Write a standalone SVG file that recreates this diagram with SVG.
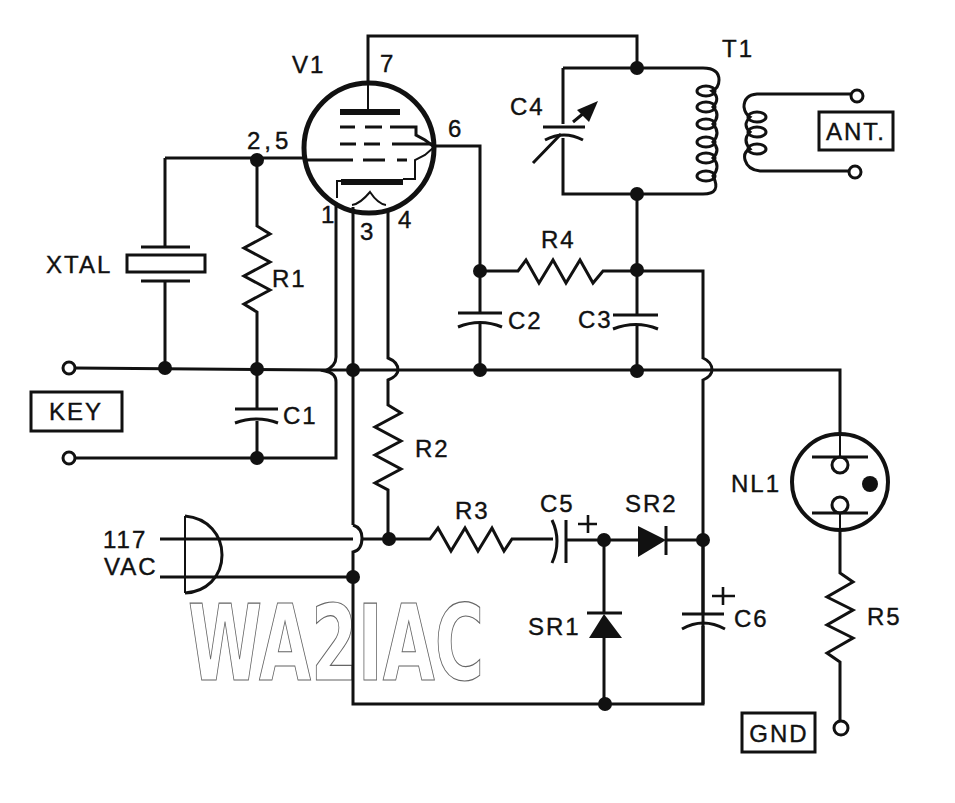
<svg xmlns="http://www.w3.org/2000/svg" width="955" height="803" viewBox="0 0 955 803">
<style>
svg{background:#fff}
.w{fill:none;stroke:#111;stroke-width:3;stroke-linejoin:miter;stroke-linecap:butt}
.t{fill:none;stroke:#111;stroke-width:2}
.m{fill:none;stroke:#111;stroke-width:2.6}
.h{fill:none;stroke:#111;stroke-width:6}
.d{fill:#111}
.o{fill:#fff;stroke:#111;stroke-width:3}
.b{fill:#fff;stroke:#111;stroke-width:3}
text{font-family:"Liberation Sans",Arial,sans-serif;font-size:24px;letter-spacing:2px;fill:#111;stroke:#111;stroke-width:.4}
</style>
<defs>
<circle id="j" r="7" class="d"/>
<circle id="p" r="6" class="o"/>
</defs>
<g id="watermark"><text transform="translate(188 680) scale(.63 1)" textLength="470" lengthAdjust="spacingAndGlyphs" style="font-family:'DejaVu Sans',sans-serif;font-size:106px;font-weight:bold;letter-spacing:0;fill:#fff;stroke:#666;stroke-width:1.2">WA2IAC</text></g>
<g id="connectors">
<path class="w" d="M368 82V36H637V68"/>
<path class="w" d="M165 158H303"/>
<path class="w" d="M165 158V247M165 281V368"/>
<path class="w" d="M257 160V226L270 234 244 248 270 262 244 276 270 290 244 304 257 312V409M257 421V458"/>
<path class="w" d="M75 368L325 370H840V433"/>
<path class="w" d="M75 458H336V382Q336 373 325 371Q336 366 336 357V205"/>
<path class="w" d="M353 207V525M353 525Q362 528 362 538Q362 550 353 552V704H703V540"/>
<path class="w" d="M388 212V358Q398 362 398 370Q398 376 388 380V405L401 413 375 427 401 441 375 455 401 469 375 483 388 490V539"/>
<path class="w" d="M435 146H480V313M480 324V370"/>
<path class="w" d="M480 271H518L526 260 539 283 553 260 566 283 580 260 593 283 603 271H703V358Q712 362 712 370Q712 376 703 380V614M703 626V704"/>
<path class="w" d="M637 194V315M637 326V370"/>
<path class="w" d="M160 539H353M362 539H430L438 528 451 551 465 528 478 551 492 528 504 551 512 539H553M566 540H638M666 540H703"/>
<path class="w" d="M160 577H353"/>
<path class="w" d="M604 540V613M604 638V704"/>
<path class="w" d="M840 531V573L853 582 827 597 853 610 827 625 853 638 827 653 840 662V721"/>
</g>
<g id="V1">
<circle cx="369" cy="148" r="65" fill="none" stroke="#111" stroke-width="5"/>
<path class="t" d="M368 82V112"/>
<path class="h" d="M340 112H400"/>
<path class="w" d="M340 127H355M365 127H382M390 127H416V135L425 140 433 146"/>
<path class="w" d="M340 144H356M364 144H380M392 144H435"/>
<path class="w" d="M303 160H353M363 160H385M397 160H407"/>
<path class="h" d="M341 182H403"/>
<path class="t" d="M337 198V181H342M403 179H415V160L425 155 433 148"/>
<path class="t" d="M352 205Q360 204 370 192Q378 204 386 205"/>
<text x="292" y="73">V1</text><text x="380" y="72">7</text><text x="247" y="149" style="letter-spacing:4px">2,5</text><text x="448" y="137">6</text><text x="321" y="223">1</text><text x="360" y="240">3</text><text x="398" y="228">4</text>
</g>
<g id="XTAL">
<path class="w" d="M141 247H190M141 281H190"/>
<rect class="b" x="127" y="255" width="78" height="17"/>
<text x="46" y="273">XTAL</text>
</g>
<g id="R1"><text x="272" y="287">R1</text></g>
<g id="C1"><path class="w" d="M235 409H278M235 423Q257 415 278 423"/><text x="283" y="424">C1</text></g>
<g id="KEY"><rect class="b" x="31" y="392" width="91" height="39"/><text x="76" y="420" text-anchor="middle">KEY</text><use href="#p" x="69" y="368"/><use href="#p" x="69" y="458"/></g>
<g id="R2"><text x="415" y="457">R2</text></g>
<g id="C2"><path class="w" d="M458 313H502M458 327Q480 318 502 327"/><text x="508" y="329">C2</text></g>
<g id="R4"><text x="541" y="248">R4</text></g>
<g id="C3"><path class="w" d="M613 315H658M613 329Q636 320 658 329"/><text x="578" y="328">C3</text></g>
<g id="C4">
<path class="w" d="M563 68V124M563 138V194H637"/>
<path class="w" d="M543 127H585M545 140Q564 130 583 140"/>
<path class="w" d="M533 163L561 134M573 122L590 108"/>
<path class="d" d="M598 101L577 110 589 122Z"/>
<text x="510" y="115">C4</text>
</g>
<g id="T1">
<path class="w" d="M563 68H703Q719 68 719 80Q719 88 712 91Q721 98 713 107Q721 115 713 124Q721 133 713 142Q721 150 713 158Q721 166 713 176Q722 194 703 194H637"/>
<g class="w"><ellipse cx="706" cy="91" rx="9" ry="5"/><ellipse cx="706" cy="107" rx="9" ry="5"/><ellipse cx="706" cy="124" rx="9" ry="5"/><ellipse cx="706" cy="142" rx="9" ry="5"/><ellipse cx="706" cy="158" rx="9" ry="5"/><ellipse cx="706" cy="176" rx="9" ry="5"/></g>
<path class="w" d="M851 94H757Q744 95 744 107Q745 114 750 117Q742 125 750 132Q742 140 750 149Q743 152 745 160Q748 170 760 171H849"/>
<g class="w"><ellipse cx="757" cy="117" rx="9" ry="5"/><ellipse cx="757" cy="132" rx="9" ry="5"/><ellipse cx="757" cy="149" rx="9" ry="5"/></g>
<text x="722" y="57">T1</text>
</g>
<g id="ANT"><rect class="b" x="819" y="112" width="74" height="38"/><text x="856" y="140" text-anchor="middle">ANT.</text><use href="#p" x="857" y="96"/><use href="#p" x="855" y="172"/></g>
<g id="PLUG"><path class="t" d="M185 516V593"/><path class="w" d="M185 516C208 518 222 535 222 555C222 577 206 592 185 593"/><text x="103" y="548">117</text><text x="104" y="575">VAC</text></g>
<g id="R3"><text x="455" y="519">R3</text></g>
<g id="C5"><path class="w" d="M552 520Q562 541 552 563M566 520V563"/><path class="m" d="M578 524H597M588 515V533"/><text x="540" y="512">C5</text></g>
<g id="SR2"><path class="d" d="M638 526L666 540 638 557Z"/><path class="w" d="M666 526V555"/><text x="625" y="512">SR2</text></g>
<g id="SR1"><path class="d" d="M604 614L589 638H622Z"/><path class="w" d="M587 613H622"/><text x="528" y="635">SR1</text></g>
<g id="C6"><path class="w" d="M682 614H724M682 629Q703 617 725 629"/><path class="m" d="M712 596H735M723 587V605"/><text x="734" y="627">C6</text></g>
<g id="NL1">
<circle cx="840" cy="482" r="48" fill="none" stroke="#111" stroke-width="4"/>
<path class="t" d="M840 433V457M840 513V531"/>
<circle cx="840" cy="465" r="8" fill="#fff" stroke="#111" stroke-width="3"/>
<circle cx="840" cy="505" r="8" fill="#fff" stroke="#111" stroke-width="3"/>
<path class="w" d="M812 457H868M812 513H868"/>
<circle cx="870" cy="484" r="8" class="d"/>
<text x="731" y="492">NL1</text>
</g>
<g id="R5"><text x="867" y="625">R5</text></g>
<g id="GND"><rect class="b" x="742" y="713" width="73" height="39"/><text x="779" y="742" text-anchor="middle">GND</text><circle cx="841" cy="728" r="7" class="o"/></g>
<g id="junctions">
<use href="#j" x="637" y="68"/><use href="#j" x="637" y="194"/><use href="#j" x="257" y="160"/>
<use href="#j" x="165" y="368"/><use href="#j" x="257" y="369"/><use href="#j" x="257" y="458"/><use href="#j" x="353" y="370"/>
<use href="#j" x="480" y="271"/><use href="#j" x="637" y="270"/><use href="#j" x="480" y="370"/><use href="#j" x="637" y="371"/>
<use href="#j" x="389" y="539"/><use href="#j" x="353" y="577"/><use href="#j" x="604" y="540"/><use href="#j" x="703" y="540"/><use href="#j" x="605" y="704"/>
</g>
</svg>
